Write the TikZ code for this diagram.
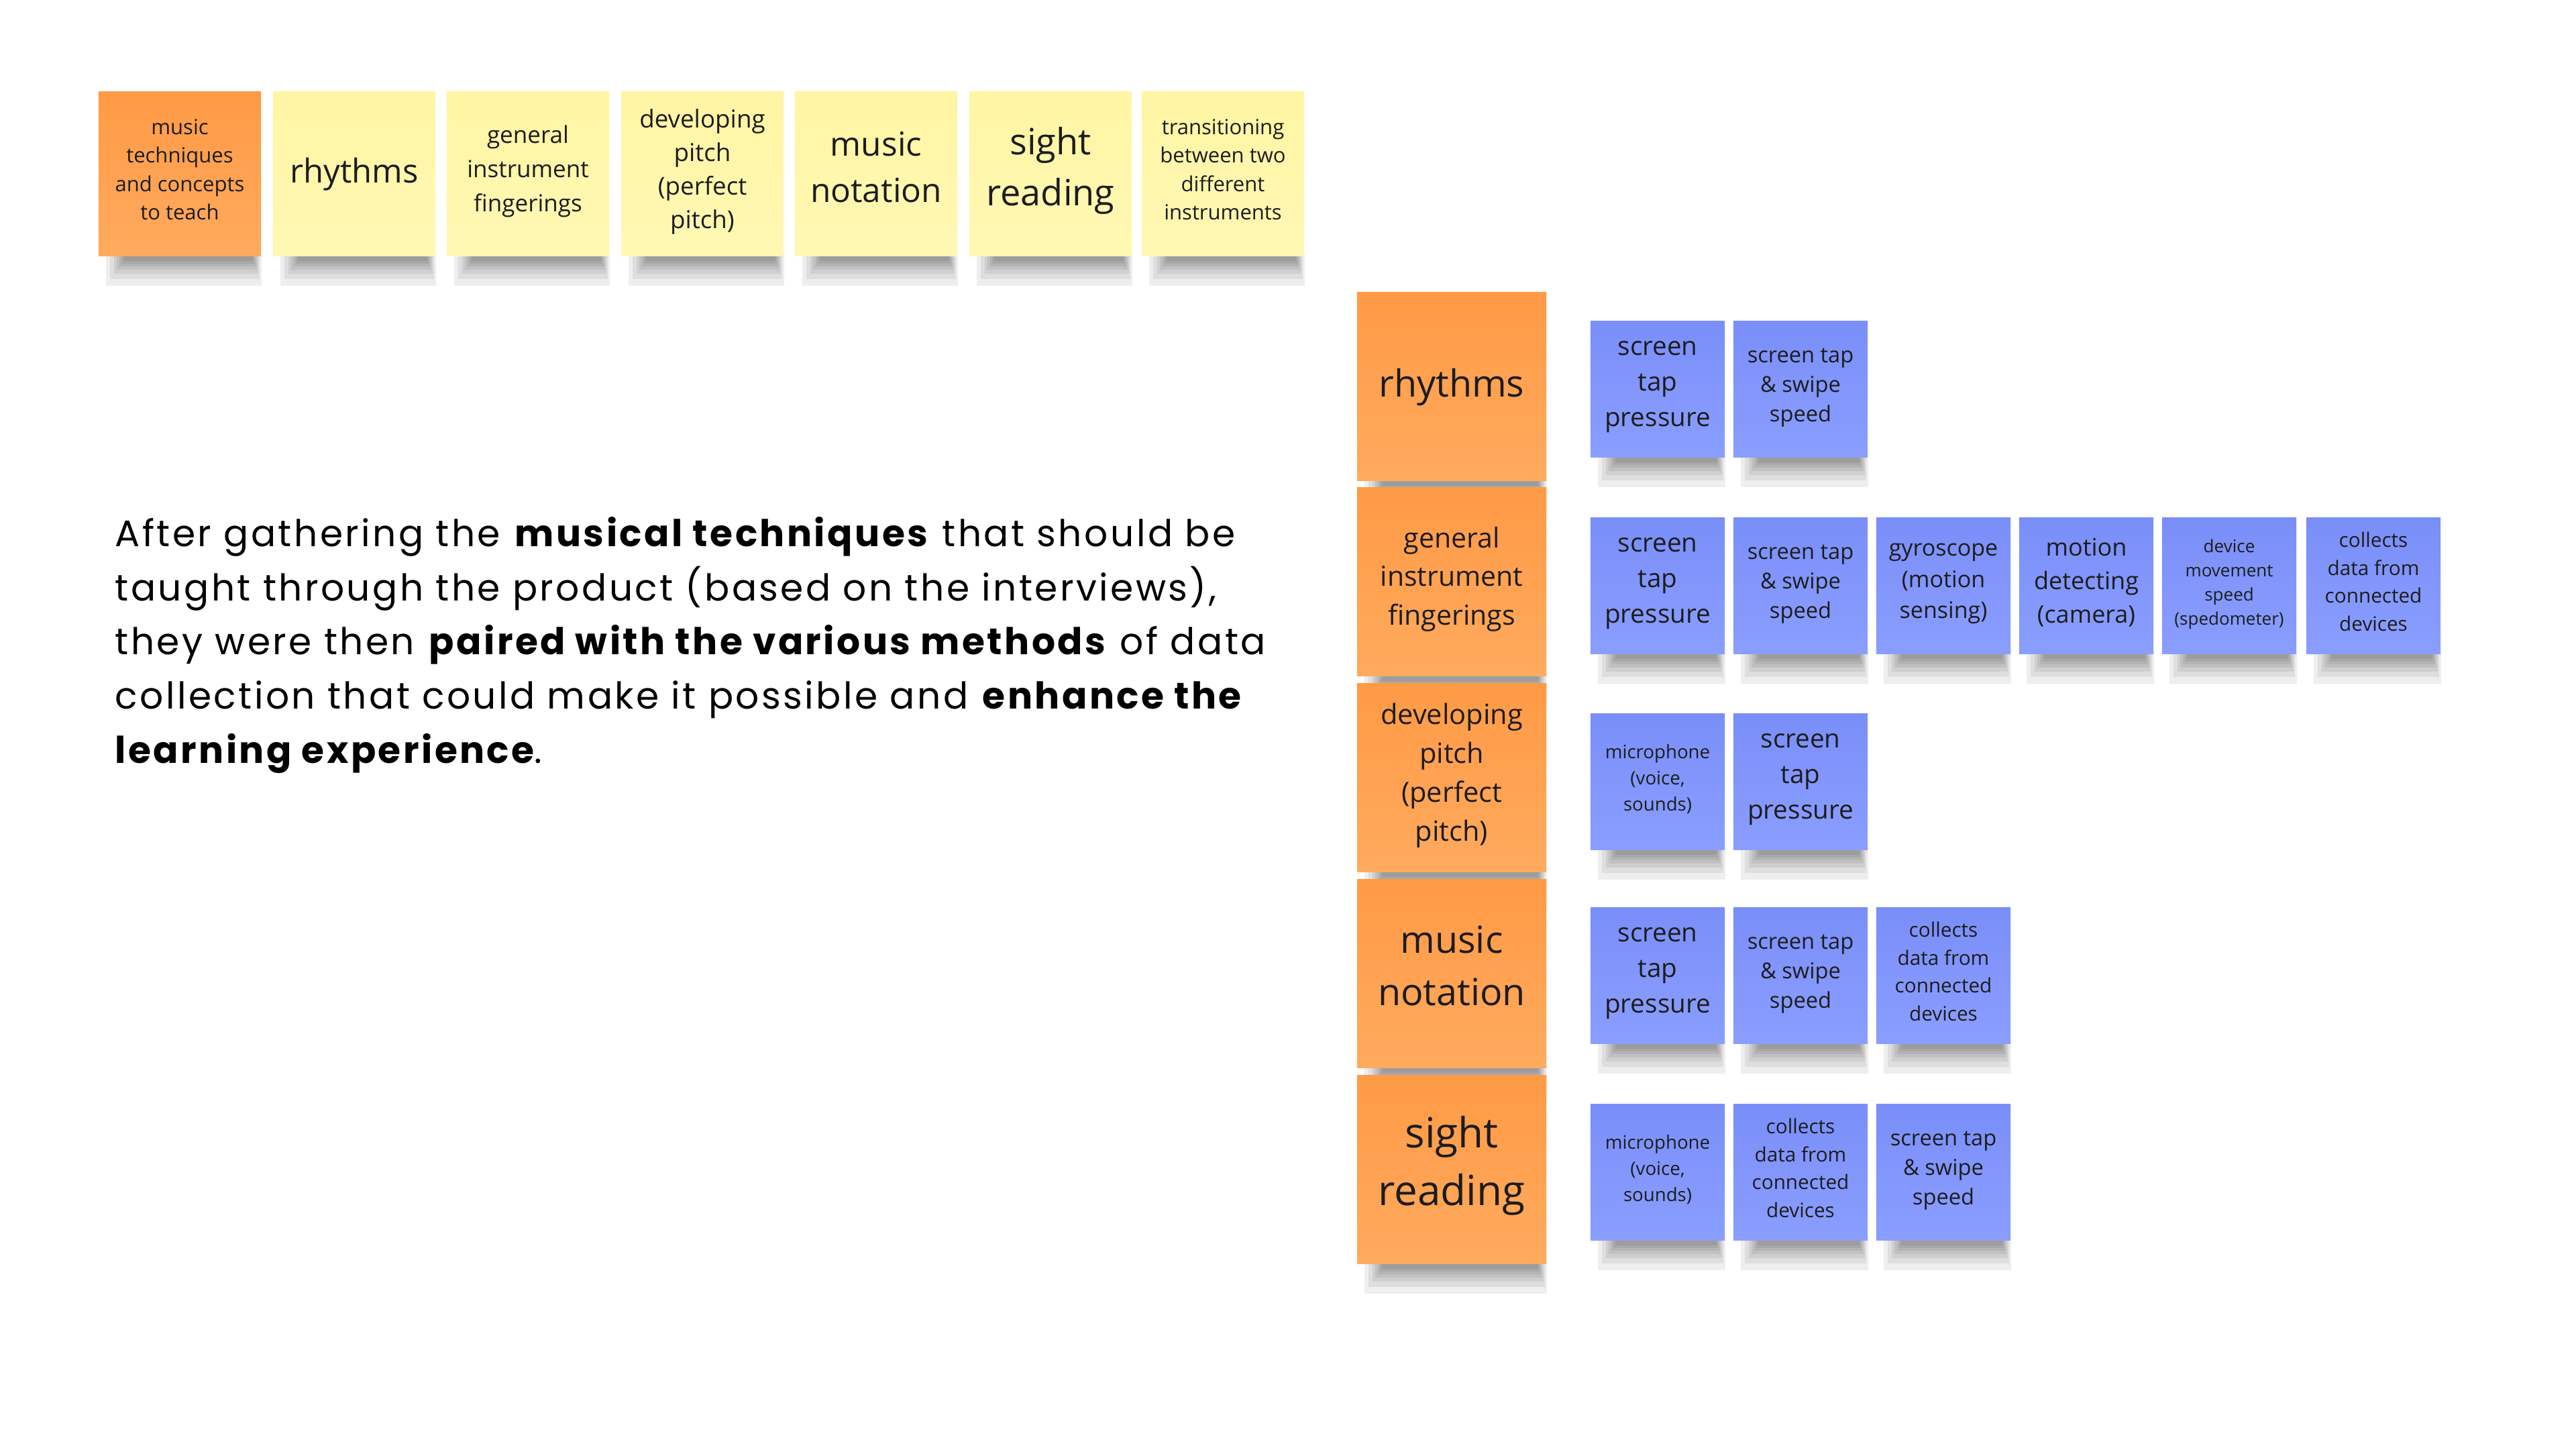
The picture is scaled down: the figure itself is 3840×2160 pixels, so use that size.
\documentclass[tikz,border=0pt]{standalone}
\usepackage{fontspec}
\setmainfont{Open Sans}
\newfontfamily\parafont{Poppins}[LetterSpace=6.3]
\usetikzlibrary{calc}
\pgfdeclarelayer{bg}
\pgfsetlayers{bg,main}
\definecolor{orA}{HTML}{FF9A45}
\definecolor{orB}{HTML}{FFAA5E}
\definecolor{yeA}{HTML}{FFF5A3}
\definecolor{yeB}{HTML}{FFF8B4}
\definecolor{blA}{HTML}{7A8EF9}
\definecolor{blB}{HTML}{8A9EFF}
\definecolor{ink}{HTML}{1C1C1C}
\newcommand\fpx[2]{\fontsize{\fpeval{#1*0.28453}pt}{\fpeval{#2*0.28453}pt}\selectfont}
\newcommand\linestrut{\rule[-0.3\baselineskip]{0pt}{\baselineskip}}
\newcommand\shadowfor[1]{%
  \foreach \h/\l/\r in {44/12/0, 34/18/3, 26/24/5, 20/28/7, 15/32/9, 11/35/11, 7/38/13}{%
    \fill[black, opacity=0.065] ($(#1.south west)+(\l,-4)$) rectangle ($(#1.south east)+(-\r,\h)$);
  }}
\tikzset{
  sticky/.style={inner sep=0pt, align=center, text=ink,
    execute at begin node=\linestrut, execute at end node=\linestrut},
  topsticky/.style={sticky, minimum width=2.42cm, minimum height=2.45cm},
  yel/.style={topsticky, top color=yeA, bottom color=yeB},
  ortop/.style={topsticky, top color=orA, bottom color=orB},
  orcol/.style={sticky, minimum width=2.82cm, minimum height=2.80cm, top color=orA, bottom color=orB},
  blue/.style={sticky, minimum width=2.00cm, minimum height=2.02cm, top color=blA, bottom color=blB},
}
\begin{document}
\begin{tikzpicture}[x=0.01cm, y=-0.01cm]
\begin{pgfonlayer}{bg}
\fill[white] (0,0) rectangle (3840,2160);
\end{pgfonlayer}
\useasboundingbox (0,0) rectangle (3840,2160);

% top row
\node[ortop, font=\fpx{31}{42.6}] (t1) at (268,259) {music\\techniques\\and concepts\\to teach};
\node[yel, font=\fpx{49}{68}] (t2) at (528,259) {rhythms};
\node[yel, font=\fpx{35}{51}] (t3) at (787,259) {general\\instrument\\fingerings};
\node[yel, font=\fpx{36.7}{50}] (t4) at (1047,259) {developing\\pitch\\(perfect\\pitch)};
\node[yel, font=\fpx{49.5}{68.6}] (t5) at (1306,259) {music\\notation};
\node[yel, font=\fpx{54}{76}] (t6) at (1566,259) {sight\\reading};
\node[yel, font=\fpx{31}{42.6}] (t7) at (1823,259) {transitioning\\between two\\different\\instruments};

% paragraph (anchor base = baseline of last line)
\node[anchor=base west, align=left, inner sep=0pt, text=black, font=\parafont\fpx{55}{80.5}] (para) at (171,1137)
 {After gathering the \textbf{musical techniques} that should be\\
  taught through the product (based on the interviews),\\
  they were then \textbf{paired with the various methods} of data\\
  collection that could make it possible and \textbf{enhance the}\\
  \textbf{learning experience}.};

% orange column
\node[orcol, font=\fpx{55.6}{78}] (o1) at (2164,576) {rhythms};
\node[orcol, font=\fpx{41}{57.5}] (o2) at (2164,867) {general\\instrument\\fingerings};
\node[orcol, font=\fpx{41.5}{58}] (o3) at (2164,1159) {developing\\pitch\\(perfect\\pitch)};
\node[orcol, font=\fpx{55.6}{78}] (o4) at (2164,1451) {music\\notation};
\node[orcol, font=\fpx{62}{86}] (o5) at (2164,1743) {sight\\reading};

% blue row 1
\node[blue, font=\fpx{38.6}{52.7}] (b11) at (2471,580) {screen\\tap\\pressure};
\node[blue, font=\fpx{32.6}{44}] (b12) at (2684,580) {screen tap\\\& swipe\\speed};
% blue row 2
\node[blue, font=\fpx{38.6}{52.7}] (b21) at (2471,873) {screen\\tap\\pressure};
\node[blue, font=\fpx{32.6}{44}] (b22) at (2684,873) {screen tap\\\& swipe\\speed};
\node[blue, font=\fpx{34}{46.5}] (b23) at (2897,873) {gyroscope\\(motion\\sensing)};
\node[blue, font=\fpx{36}{50}] (b24) at (3110,873) {motion\\detecting\\(camera)};
\node[blue, font=\fpx{26}{36}] (b25) at (3323,873) {device\\movement\\speed\\(spedometer)};
\node[blue, font=\fpx{29.7}{41.6}] (b26) at (3538,873) {collects\\data from\\connected\\devices};
% blue row 3
\node[blue, font=\fpx{27.6}{39}] (b31) at (2471,1165) {microphone\\(voice,\\sounds)};
\node[blue, font=\fpx{38.6}{52.7}] (b32) at (2684,1165) {screen\\tap\\pressure};
% blue row 4
\node[blue, font=\fpx{38.6}{52.7}] (b41) at (2471,1454) {screen\\tap\\pressure};
\node[blue, font=\fpx{32.6}{44}] (b42) at (2684,1454) {screen tap\\\& swipe\\speed};
\node[blue, font=\fpx{29.7}{41.6}] (b43) at (2897,1454) {collects\\data from\\connected\\devices};
% blue row 5
\node[blue, font=\fpx{27.6}{39}] (b51) at (2471,1747) {microphone\\(voice,\\sounds)};
\node[blue, font=\fpx{29.7}{41.6}] (b52) at (2684,1747) {collects\\data from\\connected\\devices};
\node[blue, font=\fpx{32.6}{44}] (b53) at (2897,1747) {screen tap\\\& swipe\\speed};

% soft shadows under every sticky
\begin{pgfonlayer}{bg}
\foreach \n in {t1,t2,t3,t4,t5,t6,t7,o1,o2,o3,o4,o5,b11,b12,b21,b22,b23,b24,b25,b26,b31,b32,b41,b42,b43,b51,b52,b53}{
  \shadowfor{\n}
}
\end{pgfonlayer}
\end{tikzpicture}
\end{document}
